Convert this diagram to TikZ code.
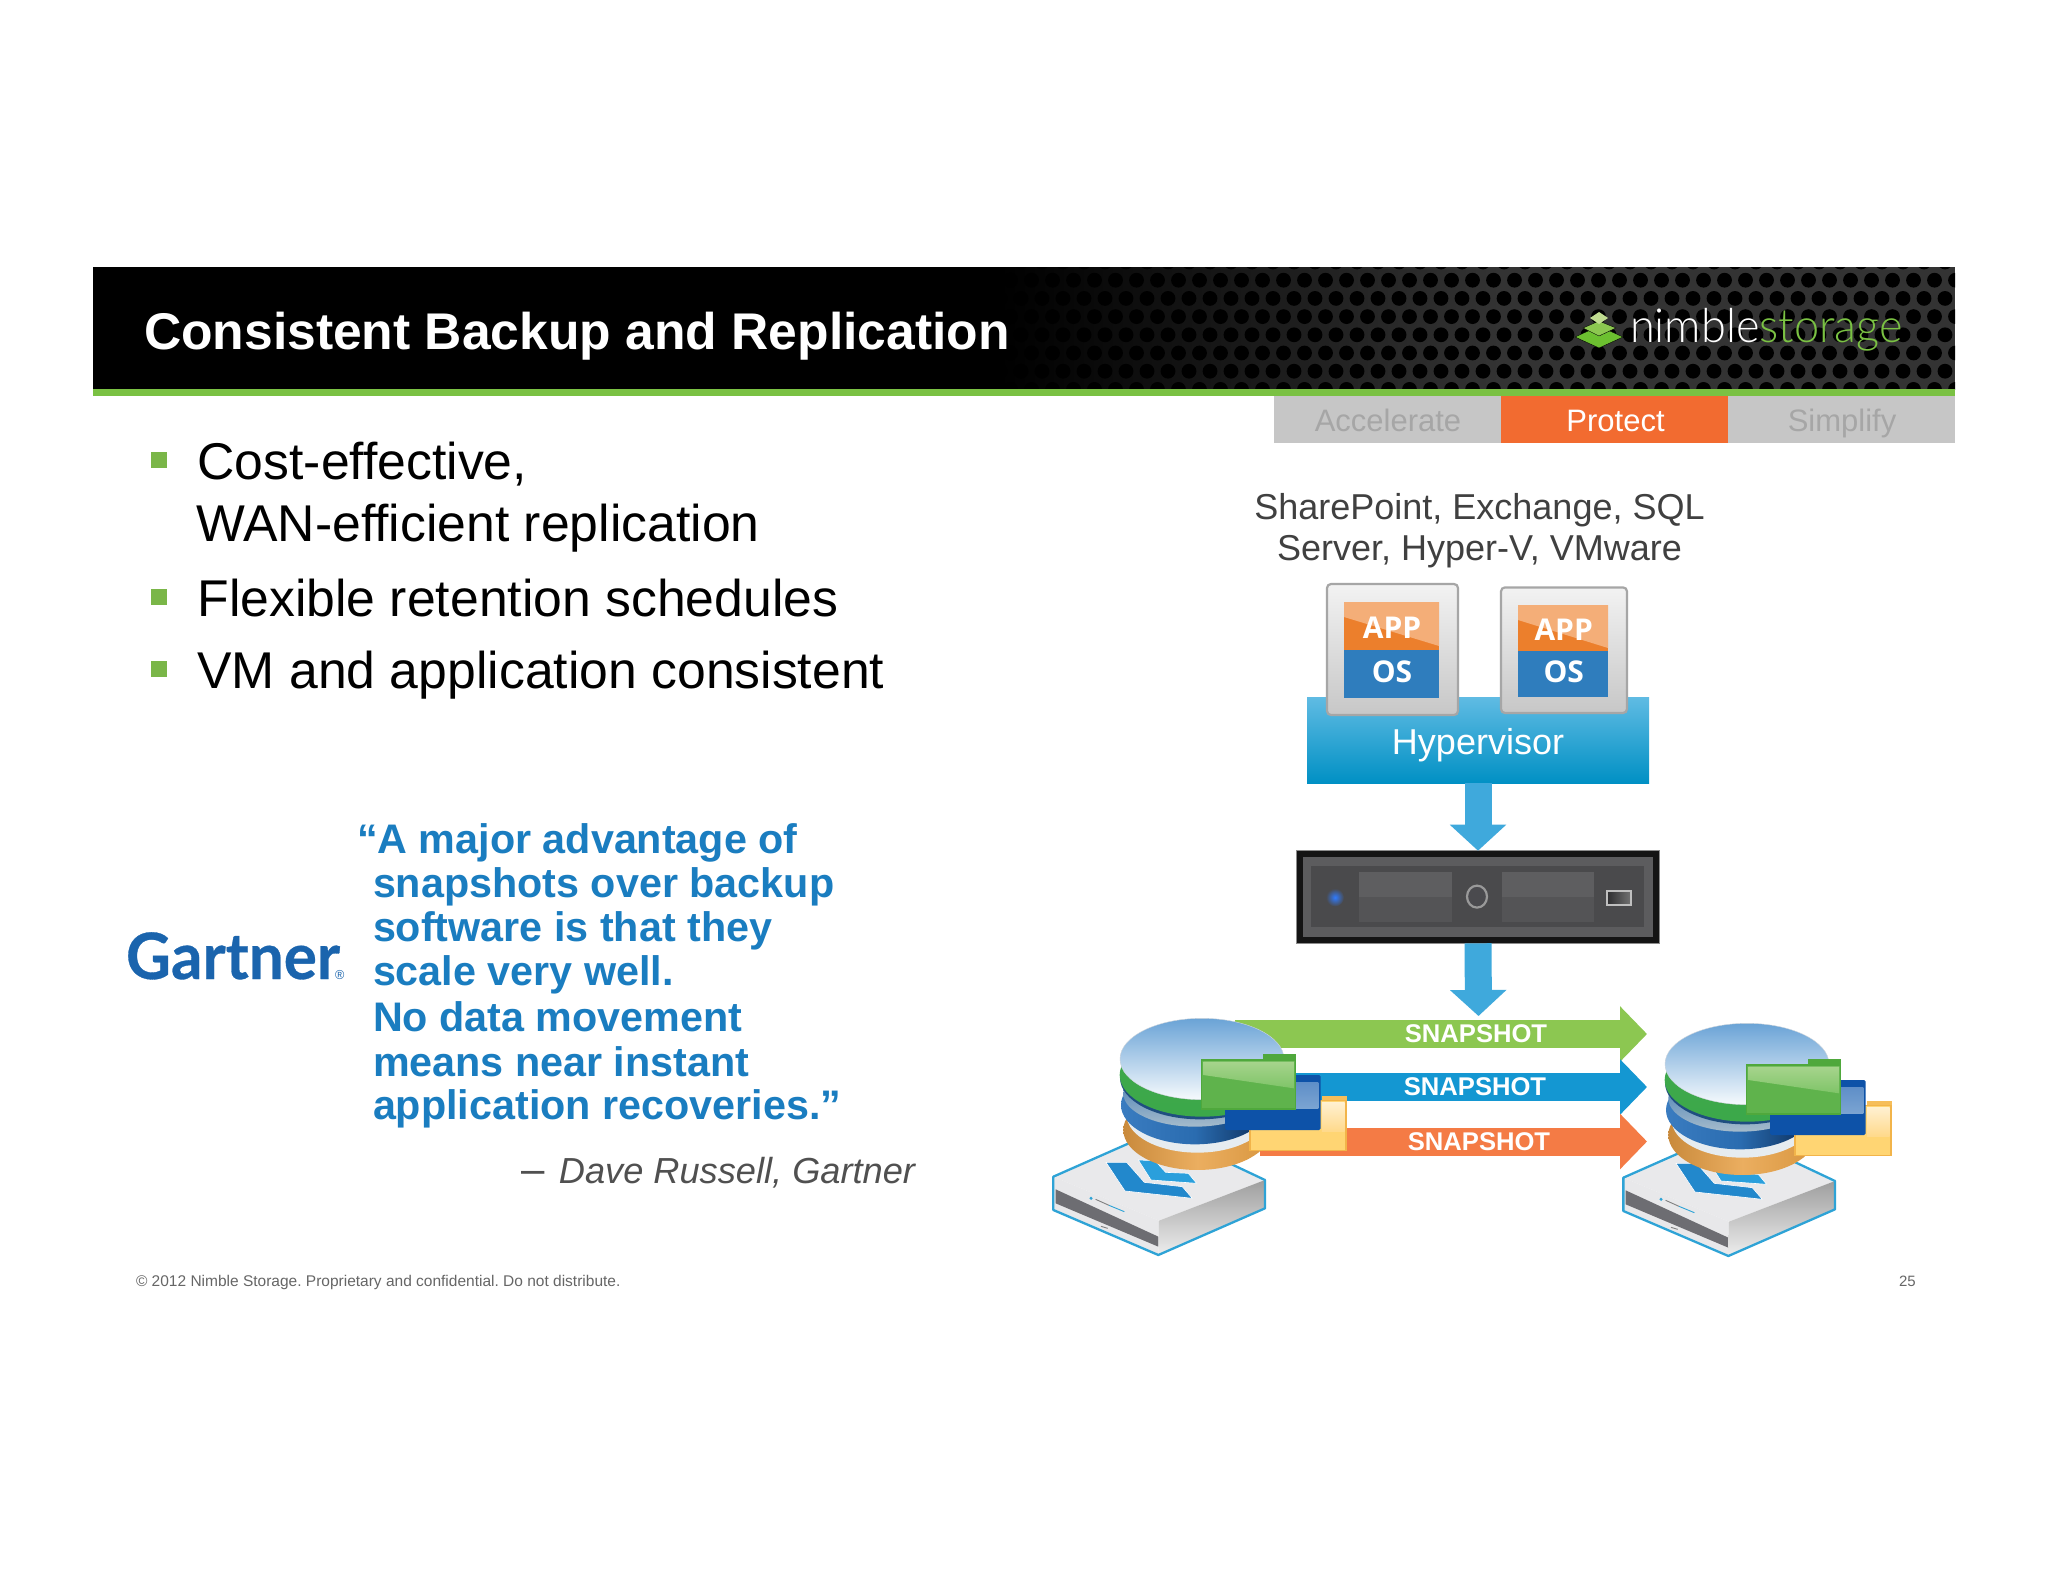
\documentclass[tikz,border=0pt]{standalone}
\usepackage{fontspec}
\setmainfont{Liberation Sans}
\newfontfamily\logofont{Lato Light}
\newfontfamily\gartfont[FakeBold=0.5]{Lato Bold}
\newfontfamily\vmfont{Open Sans Bold}
\usetikzlibrary{arrows.meta}
\newcommand{\dc}[1]{\definecolor{c#1}{HTML}{#1}}
\dc{E9E9EB}\dc{E8E8EA}\dc{6D6D72}\dc{2288CC}\dc{2A9FDC}
\dc{C98A3C}\dc{D8963F}\dc{EBAE60}\dc{E6ECF0}\dc{3A7CC0}\dc{0A2A55}\dc{2A6CB0}
\dc{A5BBCB}\dc{1F4E80}\dc{3FA84C}\dc{3CA84A}\dc{6AA3D6}\dc{A6CBEA}\dc{F6FAFD}
\dc{D0D6DC}\dc{F6BE5A}\dc{FFD573}\dc{F2B44A}\dc{FFF0D0}\dc{FFD98A}\dc{0D52A8}
\dc{5F8FC8}\dc{7BA4D2}\dc{4FA83C}\dc{5FB34C}\dc{A6D48C}\dc{7FC468}\dc{6CC030}\dc{8CC850}\dc{C0DC90}
\dc{1A64AD}\dc{5FBBE3}\dc{0090C4}\dc{2F7DBD}\dc{EC7F2C}\dc{F4AE78}\dc{5C5C5E}\dc{4A4A4C}
\dc{5E5E60}\dc{545456}\dc{2F7BFF}\dc{4A4A4E}\dc{2E2E30}\dc{505050}
\definecolor{hdrgreen}{HTML}{7AC143}
\definecolor{tabgray}{HTML}{C6C6C6}
\definecolor{tabtext}{HTML}{A6A6A6}
\definecolor{taborange}{HTML}{F26B30}
\definecolor{bodygray}{HTML}{404040}
\definecolor{quoteblue}{HTML}{1A7DC0}
\definecolor{bullgreen}{HTML}{7AB648}
\definecolor{flowblue}{HTML}{3FA9DC}
\definecolor{snapgreen}{HTML}{8CC751}
\definecolor{snapblue}{HTML}{1497D2}
\definecolor{snaporange}{HTML}{F47B45}
\definecolor{applblue}{HTML}{2EA3D6}
\definecolor{hexgray}{gray}{0.2}
\tikzset{
  tx/.style={inner sep=0pt,outer sep=0pt,anchor=base west,font=\fontsize{#1}{#1}\selectfont\frenchspacing},
  txc/.style={inner sep=0pt,outer sep=0pt,anchor=base,font=\fontsize{#1}{#1}\selectfont},
  tabbox/.style={rectangle,inner sep=0pt,outer sep=0pt,anchor=north west,minimum height=46.5pt},
  bulletbox/.style={rectangle,inner sep=0pt,fill=bullgreen,minimum width=16pt,minimum height=16pt},
  vmcard/.style={draw=black!35,line width=2.2pt,rounded corners=4pt,top color=white!95!black,bottom color=black!22},
  blockflow/.style={draw=flowblue,line width=27pt,-{Triangle[length=26pt,width=55pt]}},
  snaparrow/.style={line width=28pt,-{Triangle[length=27pt,width=54pt]}},
  snaplabel/.style={txc=25.6,text=white,font=\fontsize{25.6}{25.6}\selectfont\bfseries},
  quoteline/.style={tx=41.3,text=quoteblue,font=\fontsize{41.3}{41.3}\selectfont\bfseries},
  vmlabel/.style={txc=30,text=white,font=\fontsize{30}{30}\selectfont\vmfont}
}
\newcommand{\appliance}[2]{%
\begin{scope}[shift={(#1,#2)},x=0.3333pt,y=-0.3333pt]
  \fill[cE9E9EB] (25,140)--(342,0)--(660,150)--(342,272)--cycle;
  \fill[cE8E8EA] (25,140)--(342,272)--(340,375)--(25,240)--cycle;
  \fill[c6D6D72] (32,178)--(340,320)--(340,350)--(32,220)--cycle;
  \shade[top color=black!38,bottom color=black!7] (342,272)--(660,150)--(660,235)--(340,375)--cycle;
  \draw[applblue,line width=2.3pt,line join=round] (25,140)--(342,0)--(660,150)--(660,235)--(340,375)--(25,240)--cycle;
  \fill[c2288CC,draw=white,line width=.6pt] (183,97)--(245,97)--(298,157)--(412,170)--(442,205)--(240,183)--cycle;
  \fill[c2A9FDC,draw=white,line width=.6pt] (280,90)--(330,92)--(362,127)--(430,130)--(455,160)--(318,150)--cycle;
  \draw[black!50,line width=.9pt] (152,208)--(192,226);
  \draw[applblue,line width=.9pt] (192,226)--(238,245);
  \fill[applblue] (138,205) circle[radius=5];
  \draw[black!50,line width=.9pt] (168,289)--(188,295);
\end{scope}}
\newcommand{\diskstack}[2]{%
\begin{scope}[shift={(#1,#2)},x=0.3333pt,y=-0.3333pt]
  \shade[left color=cC98A3C,right color=cD8963F,middle color=cEBAE60] (262,360) ellipse[x radius=222,y radius=120];
  \fill[cE6ECF0] (262,315) ellipse[x radius=212,y radius=113];
  \shade[left color=c3A7CC0,right color=c0A2A55,middle color=c2A6CB0] (255,285) ellipse[x radius=222,y radius=118];
  \shade[top color=c2A6CB0,bottom color=cA5BBCB] (255,250) ellipse[x radius=215,y radius=100];
  \fill[c1F4E80] (270,203) ellipse[x radius=240,y radius=125];
  \shade[top color=c3FA84C,bottom color=c3CA84A] (277,195) ellipse[x radius=248,y radius=125];
  \shade[top color=c6AA3D6,middle color=cA6CBEA,bottom color=cF6FAFD] (276,147) ellipse[x radius=246,y radius=122];
  \draw[cD0D6DC] (276,147) ellipse[x radius=246,y radius=122];
  % yellow folder
  \fill[cF6BE5A] (635,258) rectangle (710,285);
  \fill[cFFD573,draw=cF2B44A,line width=1.2pt] (420,272) rectangle (708,422);
  \shade[top color=cFFF0D0,bottom color=cFFD98A] (636,278) rectangle (704,365);
  % blue folder
  \fill[c0D52A8,rounded corners=1.5pt] (345,195) rectangle (632,360);
  \shade[top color=c5F8FC8,bottom color=c7BA4D2] (555,218) rectangle (625,295);
  % green folder
  \fill[c4FA83C] (460,133) rectangle (558,160);
  \fill[c5FB34C,draw=c4FA83C,line width=1.2pt] (275,150) rectangle (557,297);
  \shade[top color=cA6D48C,bottom color=c7FC468] (280,155)--(552,155)--(552,235)--(280,195)--cycle;
\end{scope}}
\begin{document}
\begin{tikzpicture}[x=1pt,y=-1pt]
\useasboundingbox (0,0) rectangle (2048,1582);
\fill[white] (0,0) rectangle (2048,1582);
% header
\fill[black] (93,267) rectangle (1955,389);
\shade[left color=black,right color=hexgray] (1000,267) rectangle (1500,389);
\fill[hexgray] (1500,267) rectangle (1955,389);
\begin{scope}
  \clip (1000,267) rectangle (1955,389);
  \foreach \r in {0,...,7} \foreach \c in {0,...,46} {
    \fill[black] ({1000+\c*21+mod(\r,2)*10.5},{262+\r*18.2}) circle[radius=7.4];
  }
\end{scope}
\fill[hdrgreen] (93,389) rectangle (1955,396);
\node[tx=51.6,text=white,font=\fontsize{51.6}{51.6}\selectfont\bfseries] (title) at (144,349.5) {Consistent Backup and Replication};
% logo
\fill[c6CC030,draw=black] (1575,337) -- (1599,326) -- (1623,337) -- (1599,348) -- cycle;
\fill[c8CC850,draw=black] (1583,328) -- (1599,321) -- (1616,328) -- (1599,336) -- cycle;
\fill[cC0DC90] (1590,318) -- (1599,312) -- (1608,318) -- (1599,324) -- cycle;
\node[tx=47,font=\fontsize{47}{47}\selectfont\logofont,xscale=.96] (logo) at (1630,342.7) {\textcolor{white}{nimble}\textcolor{hdrgreen}{storage}};
% tabs
\node[tabbox,fill=tabgray,minimum width=227pt] (tabA) at (1274,396) {};
\node[tabbox,fill=taborange,minimum width=226.5pt] (tabP) at (1501,396) {};
\node[tabbox,fill=tabgray,minimum width=227.5pt] (tabS) at (1727.5,396) {};
\node[txc=31,text=tabtext] (tabAt) at (1388,431) {Accelerate};
\node[txc=31,text=white] (tabPt) at (1615.5,431) {Protect};
\node[txc=31,text=tabtext] (tabSt) at (1842,431) {Simplify};
% bullets
\node[bulletbox] (b1) at (158.5,460) {};
\node[bulletbox] (b2) at (158.5,597) {};
\node[bulletbox] (b3) at (158.5,669) {};
\node[tx=51.7,text=black] (t1) at (197.5,479.5) {Cost-effective,};
\node[tx=51.7,text=black] (t1b) at (196.5,541.5) {WAN-efficient replication};
\node[tx=51.7,text=black] (t2) at (197.5,616.5) {Flexible retention schedules};
\node[tx=51.7,text=black] (t3) at (197.5,688) {VM and application consistent};
% quote
\node[quoteline] (q1) at (357,853) {“A major advantage of};
\node[quoteline] (q2) at (373,897) {snapshots over backup};
\node[quoteline] (q3) at (373,941) {software is that they};
\node[quoteline] (q4) at (373,985) {scale very well.};
\node[quoteline] (q5) at (373,1031) {No data movement};
\node[quoteline] (q6) at (373,1076) {means near instant};
\node[quoteline] (q7) at (373,1119.5) {application recoveries.”};
\node[tx=36.2,text=c505050,font=\fontsize{36.2}{36.2}\selectfont\itshape] (attr) at (521,1183) {{\fontsize{42}{42}\selectfont\upshape –}\hspace{14.6pt}Dave Russell, Gartner};
% gartner
\node[tx=64,text=c1A64AD,font=\fontsize{64}{64}\selectfont\gartfont,xscale=.97] (gart) at (126,979) {Gartner\hspace{-5pt}{\fontsize{13}{13}\selectfont\rmfamily ®}};
% footer
\node[tx=15.5,text=black!60] (foot) at (136,1286) {© 2012 Nimble Storage. Proprietary and confidential. Do not distribute.};
\node[tx=15,text=black!60] (pg) at (1899,1286) {25};
% top of right column
\node[txc=36,text=bodygray] (sp1) at (1479.5,519.5) {SharePoint, Exchange, SQL};
\node[txc=36,text=bodygray] (sp2) at (1479.5,560.5) {Server, Hyper-V, VMware};
\node[rectangle,inner sep=0pt,outer sep=0pt,minimum width=342pt,minimum height=85.8pt,top color=c5FBBE3,bottom color=c0090C4] (hyper) at (1478,740.5) {};
\node[txc=36,text=white] (hypert) at (1478,754.5) {Hypervisor};
\draw[vmcard] (1327,584) rectangle (1458,715);
\fill[c2F7DBD] (1344,650) rectangle (1439,697.6);
\fill[cEC7F2C] (1344,602) rectangle (1439,650);
\fill[cF4AE78] (1344,602) -- (1439,602) -- (1439,646) -- (1344,617) -- cycle;
\node[vmlabel] (app1) at (1392,638) {APP};
\node[vmlabel] (os1) at (1392,682) {OS};
\draw[vmcard] (1501,587.4) rectangle (1627,713);
\fill[c2F7DBD] (1518,650.6) rectangle (1608,696.5);
\fill[cEC7F2C] (1518,605) rectangle (1608,650.6);
\fill[cF4AE78] (1518,605) -- (1608,605) -- (1608,648) -- (1518,620) -- cycle;
\node[vmlabel] (app2) at (1563.7,640) {APP};
\node[vmlabel] (os2) at (1563.7,682) {OS};
% server
\node[rectangle,inner sep=0pt,outer sep=0pt,minimum width=363pt,minimum height=92.6pt,fill=black!92,draw=black!45,line width=.8pt] (server) at (1478,897) {};
\fill[c5C5C5E] (1303,857) rectangle (1653,937);
\fill[c4A4A4C] (1311,866) rectangle (1643.5,926.5);
\fill[c5E5E60] (1359,871.8) rectangle (1452,896.6);
\fill[c545456] (1359,896.6) rectangle (1452,921.5);
\fill[c5E5E60] (1502,871.8) rectangle (1594,896.6);
\fill[c545456] (1502,896.6) rectangle (1594,921.5);
\shade[inner color=c2F7BFF,outer color=c4A4A4C] (1335,897.4) circle[radius=9];
\fill[c4A4A4E,draw=black!40,line width=2.2pt] (1477,896.6) ellipse[x radius=10,y radius=11];
\shade[left color=c2E2E30,right color=black!55,draw=black!25,line width=2pt] (1607,890.5) rectangle (1631,905);
% flow arrows
\coordinate (flowend) at (1478.5,1016);
\draw[blockflow] (hyper.south) -- (server.north);
\draw[blockflow] (server.south) -- (flowend);
% appliances
\appliance{1045}{1130}
\appliance{1615}{1131}
% snapshots
\coordinate (gs) at (1235,1034);\coordinate (ge) at (1647,1034);
\coordinate (bs) at (1290,1087);\coordinate (be) at (1647,1087);
\coordinate (os) at (1260,1141.5);\coordinate (oe) at (1647,1141.5);
\draw[snaparrow,snapgreen] (gs) -- (ge);
\draw[snaparrow,snapblue] (bs) -- (be);
\draw[snaparrow,snaporange] (os) -- (oe);
\node[snaplabel] (sn1) at (1476,1042.3) {SNAPSHOT};
\node[snaplabel] (sn2) at (1475,1095) {SNAPSHOT};
\node[snaplabel] (sn3) at (1479,1150) {SNAPSHOT};
% disks
\diskstack{1110}{1010}
\diskstack{1655}{1015}
\end{tikzpicture}
\end{document}
